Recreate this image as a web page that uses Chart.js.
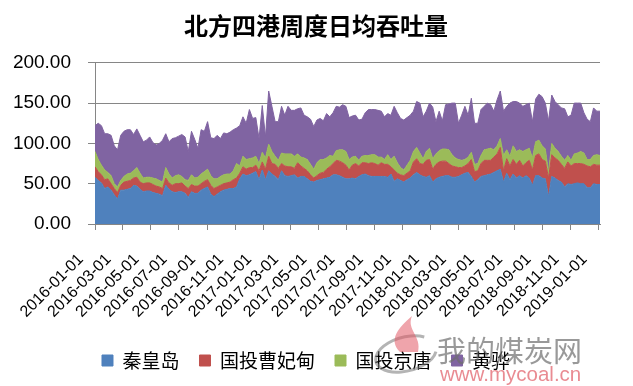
<!DOCTYPE html>
<html>
<head>
<meta charset="utf-8">
<script src="https://cdn.jsdelivr.net/npm/chart.js@4.4.1/dist/chart.umd.min.js"></script>
<style>
  html, body { margin: 0; padding: 0; background: #fff; }
</style>
</head>
<body>
<canvas id="myChart" width="633" height="386"></canvas>
<script>
// Fechas del eje X (una marca cada dos meses)
const tickLabels = ['2016-01-01', '2016-03-01', '2016-05-01', '2016-07-01', '2016-09-01', '2016-11-01',
  '2017-01-01', '2017-03-01', '2017-05-01', '2017-07-01', '2017-09-01', '2017-11-01',
  '2018-01-01', '2018-03-01', '2018-05-01', '2018-07-01', '2018-09-01', '2018-11-01', '2019-01-01']

// Datos semanales desde 2016-01-01
const firstWeek = '2016-01-01'
const seriesNames = ['秦皇岛', '国投曹妃甸', '国投京唐', '黄骅']

const qinhuangdao = [
  58, 54, 51, 44, 46, 42, 36, 31, 42, 42,
  43, 44, 48, 47, 43, 40, 41, 41, 39, 38,
  37, 35, 48, 43, 40, 39, 40, 40, 38, 33,
  40, 38, 38, 42, 44, 46, 37, 34, 37, 40,
  42, 43, 44, 44, 46, 56, 62, 60, 61, 63,
  65, 55, 67, 55, 66, 62, 59, 55, 66, 60,
  59, 60, 61, 57, 59, 59, 56, 53, 52, 54,
  55, 56, 57, 58, 61, 61, 60, 58, 56, 56,
  57, 56, 59, 61, 62, 60, 59, 59, 59, 59,
  59, 58, 62, 53, 56, 54, 52, 55, 57, 61,
  64, 61, 59, 58, 60, 52, 56, 58, 59, 60,
  60, 58, 58, 59, 61, 63, 64, 59, 52, 55,
  59, 60, 61, 62, 64, 66, 68, 52, 63, 55,
  62, 57, 60, 57, 60, 57, 48, 60, 60, 57,
  56, 34, 59, 57, 54, 52, 46, 50, 49, 50,
  51, 50, 50, 45, 45, 50, 49, 49
]

const caofeidian = [
  13, 11, 10, 11, 10, 8, 8, 8, 6, 10,
  10, 10, 9, 11, 9, 10, 10, 10, 10, 9,
  9, 9, 9, 8, 8, 11, 10, 11, 9, 11,
  9, 9, 9, 8, 9, 9, 11, 10, 9, 8,
  8, 8, 8, 11, 11, 7, 9, 8, 9, 7,
  8, 11, 10, 13, 18, 13, 15, 14, 9, 12,
  12, 11, 8, 19, 13, 10, 10, 8, 5, 6,
  8, 8, 11, 13, 14, 18, 18, 18, 17, 11,
  16, 19, 13, 15, 14, 15, 17, 16, 14, 17,
  15, 16, 9, 14, 7, 7, 8, 8, 9, 16,
  17, 14, 15, 21, 20, 16, 18, 19, 19, 18,
  15, 14, 13, 11, 9, 9, 11, 21, 13, 11,
  16, 19, 18, 17, 19, 21, 27, 14, 18, 17,
  18, 17, 19, 15, 16, 22, 19, 25, 27, 23,
  22, 23, 27, 25, 25, 22, 23, 27, 23, 25,
  24, 25, 24, 27, 26, 24, 24, 24
]

const jingtang = [
  19, 15, 12, 12, 8, 10, 6, 7, 6, 7,
  9, 9, 9, 12, 11, 7, 7, 7, 8, 9,
  8, 8, 13, 11, 9, 10, 11, 8, 8, 10,
  12, 10, 11, 12, 12, 13, 12, 12, 10, 11,
  11, 11, 10, 11, 18, 9, 13, 12, 11, 12,
  11, 9, 12, 14, 15, 15, 10, 10, 13, 15,
  16, 16, 15, 11, 11, 13, 14, 13, 11, 16,
  17, 16, 14, 14, 9, 12, 14, 16, 17, 13,
  10, 9, 7, 8, 9, 10, 10, 11, 10, 7,
  6, 12, 9, 17, 13, 9, 7, 10, 13, 13,
  14, 13, 7, 11, 14, 13, 13, 14, 15, 15,
  17, 14, 11, 10, 9, 8, 8, 9, 9, 9,
  10, 13, 14, 15, 9, 10, 11, 19, 11, 12,
  17, 16, 13, 18, 16, 15, 15, 17, 17, 17,
  15, 7, 14, 12, 11, 10, 10, 8, 7, 12,
  13, 15, 14, 8, 9, 11, 13, 12
]

const huanghua = [
  32, 45, 49, 45, 48, 50, 47, 46, 56, 56,
  55, 54, 45, 48, 47, 45, 46, 50, 44, 42,
  46, 52, 42, 40, 49, 47, 48, 52, 53, 36,
  54, 48, 36, 55, 50, 59, 47, 50, 54, 47,
  52, 50, 52, 51, 44, 50, 49, 45, 61, 49,
  48, 31, 58, 26, 66, 56, 43, 48, 58, 48,
  59, 54, 57, 56, 61, 53, 53, 56, 53, 53,
  51, 48, 55, 48, 54, 55, 53, 56, 56, 52,
  51, 51, 50, 46, 53, 57, 56, 56, 58, 57,
  53, 51, 55, 62, 62, 61, 62, 59, 56, 50,
  57, 62, 52, 50, 56, 64, 40, 49, 35, 55,
  57, 64, 68, 45, 56, 66, 52, 67, 51, 50,
  57, 54, 57, 54, 48, 57, 59, 55, 54, 66,
  55, 62, 58, 56, 56, 56, 45, 53, 57, 61,
  57, 64, 60, 58, 58, 60, 64, 48, 56, 63,
  62, 60, 50, 50, 47, 59, 54, 55
]

const colors = ['#4F81BD', '#C0504D', '#9BBB59', '#8064A2']

// Días desde el inicio, para el eje lineal
const DAY = 86400000
const dayOf = s => (Date.parse(s) - Date.parse(firstWeek)) / DAY
const tickDays = tickLabels.map(dayOf)
const toPoints = arr => arr.map((v, i) => ({ x: i * 7, y: v }))
const lastDay = (qinhuangdao.length - 1) * 7

const datasets = [qinhuangdao, caofeidian, jingtang, huanghua].map((arr, i) => ({
  label: seriesNames[i],
  data: toPoints(arr),
  backgroundColor: colors[i],
  borderColor: colors[i],
  borderWidth: 1,
  pointRadius: 0,
  tension: 0,
  fill: i === 0 ? 'origin' : '-1',
}))

const font = 'Liberation Sans'
const cjk = "'Noto Sans CJK SC'"
const gridColor = '#868686'

// Mover el título un poco a la derecha
const titleShift = {
  id: 'titleShift',
  afterLayout(chart) {
    const t = chart.titleBlock
    if (t) { t.left += 10; t.right += 10 }
  },
}

// Marca de agua del sitio
const watermark = {
  id: 'watermark',
  afterDraw(chart) {
    const c = chart.ctx
    c.save()
    c.globalAlpha = 0.55
    c.strokeStyle = '#777'
    c.lineWidth = 3
    c.beginPath()
    c.ellipse(406, 354, 31, 17, -0.25, 0.3, Math.PI * 1.75)
    c.stroke()
    c.fillStyle = '#e25a66'
    c.beginPath()
    c.moveTo(400, 352)
    c.bezierCurveTo(388, 340, 398, 328, 412, 316)
    c.bezierCurveTo(406, 330, 422, 336, 418, 352)
    c.closePath()
    c.fill()
    c.globalAlpha = 0.7
    c.fillStyle = '#6e6e6e'
    c.font = '29px ' + cjk
    c.fillText('我的煤炭网', 437, 351)
    c.fillStyle = '#e05a64'
    c.font = '20.5px ' + font
    c.fillText('www.mycoal.cn', 440, 375)
    c.restore()
  },
}

const myChart = new Chart(document.getElementById('myChart').getContext('2d'), {
  type: 'line',
  data: { datasets },
  plugins: [titleShift, watermark],
  options: {
    responsive: false,
    animation: false,
    layout: { padding: { left: 12, right: 33, top: 8, bottom: 6 } },
    plugins: {
      title: {
        display: true,
        text: '北方四港周度日均吞吐量',
        color: '#000',
        font: { family: cjk, size: 24, weight: 'bold' },
        padding: { top: 3, bottom: 23 },
      },
      legend: {
        position: 'bottom',
        labels: {
          boxWidth: 11,
          boxHeight: 11,
          padding: 20,
          color: '#000',
          font: { family: cjk, size: 19 },
        },
      },
      tooltip: { enabled: false },
    },
    scales: {
      x: {
        type: 'linear',
        min: 0,
        max: lastDay,
        afterBuildTicks: axis => { axis.ticks = tickDays.map(v => ({ value: v })) },
        afterFit: s => { s.height = 107 },
        ticks: {
          autoSkip: false,
          minRotation: 45,
          maxRotation: 45,
          padding: 20,
          labelOffset: -14,
          color: '#000',
          font: { family: font, size: 16 },
          callback: (v, i) => tickLabels[i],
        },
        grid: { drawOnChartArea: false, tickLength: 6, color: gridColor },
        border: { color: gridColor },
      },
      y: {
        stacked: true,
        min: 0,
        max: 200,
        afterFit: s => { s.width = 83 },
        ticks: {
          stepSize: 50,
          padding: 17,
          color: '#000',
          font: { family: font, size: 19 },
          callback: v => v.toFixed(2),
        },
        grid: { color: gridColor, tickLength: 7 },
        border: { color: gridColor },
      },
    },
  },
})
</script>
</body>
</html>
